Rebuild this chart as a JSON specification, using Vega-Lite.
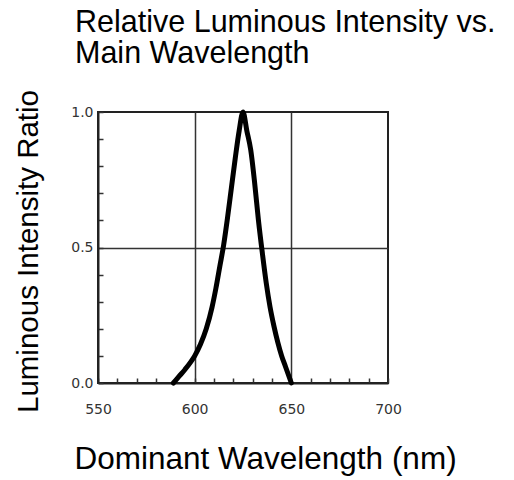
{
  "$schema": "https://vega.github.io/schema/vega-lite/v6.json",
  "width": 290,
  "height": 271,
  "autosize": {"type": "none"},
  "padding": {"left": 98, "top": 112, "right": 126, "bottom": 97},
  "background": "white",
  "title": {
    "text": ["Relative Luminous Intensity vs.", "Main Wavelength"],
    "anchor": "start",
    "frame": "group",
    "dx": -23,
    "offset": 20,
    "font": "Liberation Sans",
    "fontSize": 30.5,
    "fontWeight": "normal",
    "color": "black",
    "lineHeight": 31
  },
  "config": {
    "view": {"stroke": "#222", "strokeWidth": 2},
    "axis": {
      "domainColor": "#222",
      "domainWidth": 2,
      "tickColor": "#333",
      "tickWidth": 1.5,
      "tickSize": -5,
      "gridColor": "#333",
      "gridWidth": 1.5,
      "labelFont": "DejaVu Sans",
      "labelFontSize": 14,
      "labelColor": "#333",
      "titleFont": "Liberation Sans",
      "titleFontWeight": "normal",
      "titleColor": "black"
    }
  },
  "data": {
    "values": [
      {"wavelength": 589, "ratio": 0},
      {"wavelength": 592, "ratio": 0.025},
      {"wavelength": 595, "ratio": 0.05},
      {"wavelength": 598, "ratio": 0.078},
      {"wavelength": 600, "ratio": 0.1},
      {"wavelength": 603, "ratio": 0.143},
      {"wavelength": 606, "ratio": 0.2},
      {"wavelength": 609, "ratio": 0.28},
      {"wavelength": 611, "ratio": 0.35},
      {"wavelength": 613, "ratio": 0.43},
      {"wavelength": 615, "ratio": 0.51},
      {"wavelength": 617, "ratio": 0.61},
      {"wavelength": 619, "ratio": 0.72},
      {"wavelength": 621, "ratio": 0.83},
      {"wavelength": 623, "ratio": 0.93},
      {"wavelength": 625, "ratio": 1.0},
      {"wavelength": 627, "ratio": 0.93},
      {"wavelength": 629, "ratio": 0.86},
      {"wavelength": 631, "ratio": 0.74},
      {"wavelength": 633, "ratio": 0.6},
      {"wavelength": 635, "ratio": 0.48},
      {"wavelength": 637, "ratio": 0.37},
      {"wavelength": 639, "ratio": 0.28},
      {"wavelength": 641, "ratio": 0.21},
      {"wavelength": 643, "ratio": 0.15},
      {"wavelength": 645, "ratio": 0.1},
      {"wavelength": 647, "ratio": 0.06},
      {"wavelength": 650, "ratio": 0}
    ]
  },
  "mark": {"type": "line", "color": "black", "strokeWidth": 5, "interpolate": "monotone", "strokeCap": "round", "strokeJoin": "round"},
  "encoding": {
    "x": {
      "field": "wavelength",
      "type": "quantitative",
      "scale": {"domain": [550, 700], "nice": false, "zero": false},
      "axis": {
        "title": "Dominant Wavelength (nm)",
        "titleFontSize": 31.5,
        "titleX": 167,
        "titleY": 85,
        "titleBaseline": "alphabetic",
        "titleAnchor": null,
        "titleAlign": "center",
        "values": [550, 560, 570, 580, 590, 600, 610, 620, 630, 640, 650, 660, 670, 680, 690, 700],
        "labelExpr": "datum.value % 50 == 0 ? datum.label : ''",
        "labelPadding": 24,
        "labelFlush": false,
        "labelOverlap": false,
        "grid": true,
        "gridOpacity": {"condition": {"test": "datum.value == 600 || datum.value == 650", "value": 1}, "value": 0}
      }
    },
    "y": {
      "field": "ratio",
      "type": "quantitative",
      "scale": {"domain": [0, 1], "nice": false},
      "axis": {
        "title": "Luminous Intensity Ratio",
        "titleFontSize": 29.5,
        "titleAngle": -90,
        "titleX": -61,
        "titleY": 139,
        "titleBaseline": "alphabetic",
        "titleAlign": "center",
        "titleAnchor": null,
        "values": [0, 0.1, 0.2, 0.3, 0.4, 0.5, 0.6, 0.7, 0.8, 0.9, 1.0],
        "format": ".1f",
        "labelExpr": "datum.value == 0 || datum.value == 0.5 || datum.value == 1 ? datum.label : ''",
        "labelPadding": 10,
        "labelFlush": false,
        "labelOverlap": false,
        "grid": true,
        "gridOpacity": {"condition": {"test": "datum.value == 0.5", "value": 1}, "value": 0}
      }
    }
  }
}
